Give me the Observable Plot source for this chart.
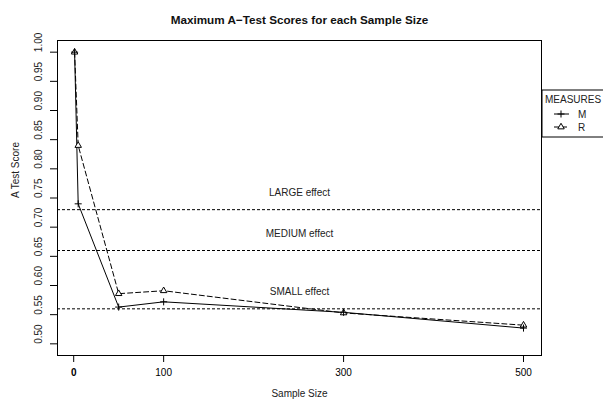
<!DOCTYPE html>
<html><head><meta charset="utf-8">
<script src="https://cdn.jsdelivr.net/npm/d3@7"></script>
<script src="https://cdn.jsdelivr.net/npm/@observablehq/plot@0.6"></script>
<style>
body{margin:0;background:#fff}
svg{font-family:"Liberation Sans",Arial,Helvetica,sans-serif}
</style>
</head><body><div id="chart"></div>
<script>
const sampleSizes = [1, 5, 50, 100, 300, 500];
const measureM = [1.00, 0.74, 0.563, 0.572, 0.554, 0.527];
const measureR = [1.00, 0.84, 0.586, 0.591, 0.553, 0.532];
const seriesNames = ["M", "R"];
const effectNames = ["LARGE effect", "MEDIUM effect", "SMALL effect"];
const effectValues = [0.73, 0.66, 0.56];
const yTicks = [0.50, 0.55, 0.60, 0.65, 0.70, 0.75, 0.80, 0.85, 0.90, 0.95, 1.00];
const xTicks = [0, 100, 300, 500];
const titleText = "Maximum A\u2212Test Scores for each Sample Size";
const xLabel = "Sample Size";
const yLabel = "A Test Score";
const legendTitle = "MEASURES";

const rowsM = sampleSizes.map((s, i) => ({size: s, score: measureM[i], series: seriesNames[0]}));
const rowsR = sampleSizes.map((s, i) => ({size: s, score: measureR[i], series: seriesNames[1]}));
const effects = effectValues.map((v, i) => ({value: v, name: effectNames[i]}));

const chart = Plot.plot({
  width: 603,
  height: 408,
  marginLeft: 57,
  marginRight: 62,
  marginTop: 40,
  marginBottom: 53,
  style: {fontFamily: '"Liberation Sans",Arial,sans-serif', fontSize: "10px", background: "white", color: "black"},
  x: {domain: [-18, 520]},
  y: {domain: [0.48, 1.02]},
  marks: [
    Plot.ruleY(effects, {y: "value", stroke: "black", strokeWidth: 1, strokeDasharray: "3,2"}),
    Plot.text(effects, {y: "value", text: "name", frameAnchor: "middle", dy: -17, fontSize: 10, fill: "#222"}),
    Plot.line(rowsR, {x: "size", y: "score", stroke: "black", strokeWidth: 1, strokeDasharray: "5,3"}),
    Plot.line(rowsM, {x: "size", y: "score", stroke: "black", strokeWidth: 1}),
    Plot.dot(rowsR, {x: "size", y: "score", symbol: "triangle", r: 2.4, stroke: "black", fill: "white", strokeWidth: 1}),
    Plot.dot(rowsM, {x: "size", y: "score", symbol: "plus", r: 2.4, stroke: "black", strokeWidth: 1}),
    Plot.frame({stroke: "black", strokeWidth: 1}),
    Plot.axisY({ticks: yTicks, tickSize: 7, tickFormat: () => "", label: null}),
    Plot.text(yTicks, {y: d => d, text: d => d3.format(".2f")(d), frameAnchor: "left", dx: -19, rotate: -90, fontSize: 10, fill: "#222"}),
    Plot.axisX({ticks: xTicks, tickSize: 7, tickPadding: 6, label: null, fontSize: 10}),
    Plot.text([yLabel], {frameAnchor: "left", dx: -42, rotate: -90, fontSize: 10, fill: "#222"}),
    Plot.text([xLabel], {frameAnchor: "bottom", dx: 0, dy: 41, fontSize: 10, fill: "#222"}),
    Plot.text([titleText], {frameAnchor: "top", dy: -25, fontSize: 11.7, fontWeight: "bold", fill: "#111"})
  ]
});
document.getElementById("chart").appendChild(chart);

// bold the "0" tick label as in the reference
d3.select(chart).selectAll("[aria-label='x-axis tick label'] text").filter(function() { return this.textContent === "0"; }).attr("font-weight", "bold");

// legend box at the right
const svg = d3.select(chart);
const lg = svg.append("g").attr("font-size", 10).attr("fill", "#222").attr("text-anchor", "start");
lg.append("rect").attr("x", 542).attr("y", 90).attr("width", 80).attr("height", 47).attr("fill", "white").attr("stroke", "black");
lg.append("text").attr("x", 545).attr("y", 99).attr("dy", "0.35em").text(legendTitle);
const legendRows = [{name: seriesNames[0], dash: null, sym: d3.symbolPlus, y: 114}, {name: seriesNames[1], dash: "5,3", sym: d3.symbolTriangle, y: 127}];
legendRows.forEach(r => {
  lg.append("line").attr("x1", 554).attr("x2", 569).attr("y1", r.y).attr("y2", r.y).attr("stroke", "black").attr("stroke-width", 1).attr("stroke-dasharray", r.dash);
  lg.append("path").attr("d", d3.symbol(r.sym, 18)()).attr("transform", `translate(561,${r.y})`).attr("fill", r.name === "R" ? "white" : "none").attr("stroke", "black");
  lg.append("text").attr("x", 578).attr("y", r.y).attr("dy", "0.35em").text(r.name);
});
</script>
</body></html>
